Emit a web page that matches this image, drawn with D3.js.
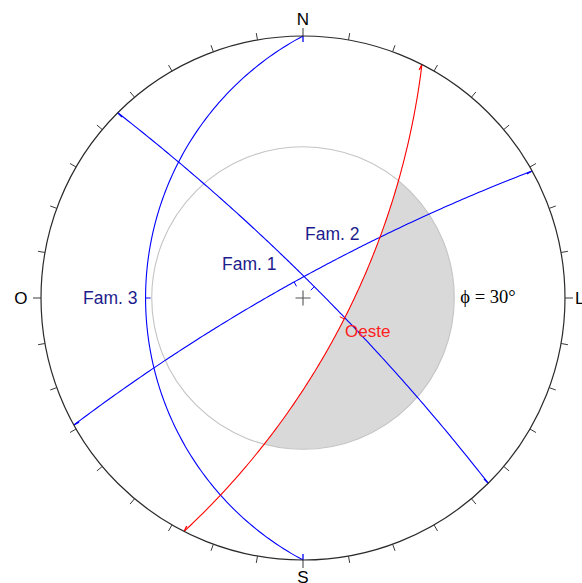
<!DOCTYPE html>
<html>
<head>
<meta charset="utf-8">
<script src="https://cdn.jsdelivr.net/npm/d3@7"></script>
<style>
  html, body { margin: 0; padding: 0; background: #fff; }
  svg { display: block; }
</style>
</head>
<body>
<svg id="net" width="582" height="583"></svg>
<script>
// Planes plotted as great circles (lower hemisphere, equal-angle net)
const planeNames    = ["Fam. 1", "Fam. 2", "Fam. 3", "Oeste"];
const dipDirections = [45, 331, 270, 117];   // degrees from north
const dipAngles     = [83, 82, 28, 70];      // degrees
const planeColors   = ["#0000ff", "#0000ff", "#0000ff", "#ff0000"];
const labelColors   = ["#1c1c8c", "#1c1c8c", "#1c1c8c", "#ff2020"];

// Friction angle of the slope material
const frictionAngle = 30;
const frictionLabel = "\u03D5 = 30\u00B0";

// Compass labels (Portuguese) and perimeter graduation
const cardinalLabels   = ["N", "L", "S", "O"];
const cardinalAzimuths = [0, 90, 180, 270];
const tickStep = 10;

const cx = 303, cy = 298, R = 262;
const rad = Math.PI / 180;

const svg = d3.select("#net");
const sx = d3.scaleLinear().domain([-1, 1]).range([cx - R, cx + R]);
const sy = d3.scaleLinear().domain([-1, 1]).range([cy + R, cy - R]);

// stereographic projection of a line given trend / plunge (degrees)
function project(trend, plunge) {
  const r = Math.tan((90 - plunge) / 2 * rad);
  return [r * Math.sin(trend * rad), r * Math.cos(trend * rad)];
}

// points along the great circle of a plane
function greatCircle(dd, dip) {
  const st = (dd - 90) * rad;
  const s = [Math.sin(st), Math.cos(st), 0];
  const d = [Math.cos(dip * rad) * Math.sin(dd * rad), Math.cos(dip * rad) * Math.cos(dd * rad), Math.sin(dip * rad)];
  const pts = [];
  for (let a = 0; a <= 180; a += 1) {
    const ca = Math.cos(a * rad), sa = Math.sin(a * rad);
    const v = [ca * s[0] + sa * d[0], ca * s[1] + sa * d[1], Math.max(0, ca * s[2] + sa * d[2])];
    const plunge = Math.asin(Math.min(1, v[2])) / rad;
    const trend = Math.atan2(v[0], v[1]) / rad;
    pts.push(project(trend, plunge));
  }
  return pts;
}

const line = d3.line().x(p => sx(p[0])).y(p => sy(p[1]));
const frictionR = Math.tan((90 - frictionAngle) / 2 * rad);   // unit radius
const pxLen = u => sx(u) - sx(0);

// ---- shaded zone: inside friction circle and beyond the "Oeste" plane ----
const iO = planeNames.indexOf("Oeste");
const ddO = dipDirections[iO], dipO = dipAngles[iO];
const cO = [-Math.tan(dipO * rad) * Math.sin(ddO * rad), -Math.tan(dipO * rad) * Math.cos(ddO * rad)];
const rO = 1 / Math.cos(dipO * rad);

const defs = svg.append("defs");
const circlePath = (x, y, r) =>
  `M${x - r},${y}a${r},${r} 0 1,0 ${2 * r},0a${r},${r} 0 1,0 ${-2 * r},0Z`;
defs.append("clipPath").attr("id", "beyondPlane")
  .append("path")
  .attr("clip-rule", "evenodd")
  .attr("d", `M-2000,-2000H3000V3000H-2000Z` + circlePath(sx(cO[0]), sy(cO[1]), pxLen(rO)));

svg.append("circle")
  .attr("cx", sx(0)).attr("cy", sy(0)).attr("r", pxLen(frictionR))
  .attr("fill", "#d9d9d9")
  .attr("clip-path", "url(#beyondPlane)");

// friction circle outline
svg.append("circle")
  .attr("cx", sx(0)).attr("cy", sy(0)).attr("r", pxLen(frictionR))
  .attr("fill", "none").attr("stroke", "#c4c4c4").attr("stroke-width", 1.1);

// ---- great circles ----
planeNames.forEach((name, i) => {
  const pts = greatCircle(dipDirections[i], dipAngles[i]);
  const g = svg.append("g");
  g.append("path").attr("d", line(pts))
    .attr("fill", "none").attr("stroke", planeColors[i]).attr("stroke-width", 1.1);
  // small marks at the strike ends
  [pts[0], pts[pts.length - 1]].forEach(p => {
    const a = Math.atan2(p[0], p[1]);
    const r0 = 1, r1 = 1 - 6 / R;
    g.append("line")
      .attr("x1", sx(r0 * Math.sin(a))).attr("y1", sy(r0 * Math.cos(a)))
      .attr("x2", sx(r1 * Math.sin(a))).attr("y2", sy(r1 * Math.cos(a)))
      .attr("stroke", planeColors[i]).attr("stroke-width", 1.3);
  });
  // dip mark at the middle of the arc, pointing to the centre
  const m = project(dipDirections[i], dipAngles[i]);
  const rm = Math.hypot(m[0], m[1]);
  const k = (rm - 5 / R) / rm;
  g.append("line")
    .attr("x1", sx(m[0])).attr("y1", sy(m[1]))
    .attr("x2", sx(m[0] * k)).attr("y2", sy(m[1] * k))
    .attr("stroke", planeColors[i]).attr("stroke-width", 1);
});

// ---- primitive circle and graduation ----
svg.append("circle")
  .attr("cx", sx(0)).attr("cy", sy(0)).attr("r", pxLen(1))
  .attr("fill", "none").attr("stroke", "#2a2a2a").attr("stroke-width", 1.2);

const ticks = d3.range(0, 360, tickStep);
svg.append("g").selectAll("line").data(ticks).join("line")
  .each(function (az) {
    const card = cardinalAzimuths.includes(az);
    const r1 = 1 + (card ? 8 : 7) / R;
    d3.select(this)
      .attr("x1", sx(Math.sin(az * rad))).attr("y1", sy(Math.cos(az * rad)))
      .attr("x2", sx(r1 * Math.sin(az * rad))).attr("y2", sy(r1 * Math.cos(az * rad)));
  })
  .attr("stroke", "#3a3a3a").attr("stroke-width", 1);

// centre cross
svg.append("path")
  .attr("d", `M${sx(0) - 7.5},${sy(0)}H${sx(0) + 7.5}M${sx(0)},${sy(0) - 7.5}V${sy(0) + 7.5}`)
  .attr("stroke", "#555").attr("stroke-width", 1.1);

// ---- compass labels ----
// N and S sit beyond the graduation; L and O sit beside their ticks
const cardGap = [17 / R, 10 / R, 17 / R, 13.5 / R];
svg.append("g").selectAll("text").data(cardinalLabels).join("text")
  .attr("x", (d, i) => sx((1 + cardGap[i]) * Math.sin(cardinalAzimuths[i] * rad)))
  .attr("y", (d, i) => sy((1 + cardGap[i]) * Math.cos(cardinalAzimuths[i] * rad)))
  .attr("text-anchor", (d, i) => i === 1 ? "start" : i === 3 ? "end" : "middle")
  .attr("dominant-baseline", "central")
  .attr("font-family", "Liberation Sans, Arial, sans-serif")
  .attr("font-size", 17)
  .attr("fill", "#000")
  .text(d => d);

// ---- plane labels ----
const labelAnchors = { "Fam. 1": [222, 270], "Fam. 2": [305, 240], "Fam. 3": [83, 304], "Oeste": [345, 337] };
svg.append("g").selectAll("text").data(planeNames).join("text")
  .attr("x", d => labelAnchors[d][0])
  .attr("y", d => labelAnchors[d][1])
  .attr("font-family", "Liberation Sans, Arial, sans-serif")
  .attr("font-size", d => d === "Oeste" ? 17 : 17.5)
  .attr("fill", (d, i) => labelColors[i])
  .text(d => d);

// friction angle label
svg.append("text")
  .attr("x", sx(frictionR) + 6).attr("y", sy(0) + 5)
  .attr("font-family", "Liberation Serif, Times New Roman, serif")
  .attr("font-size", 18.5)
  .attr("fill", "#000")
  .text(frictionLabel);
</script>
</body>
</html>
